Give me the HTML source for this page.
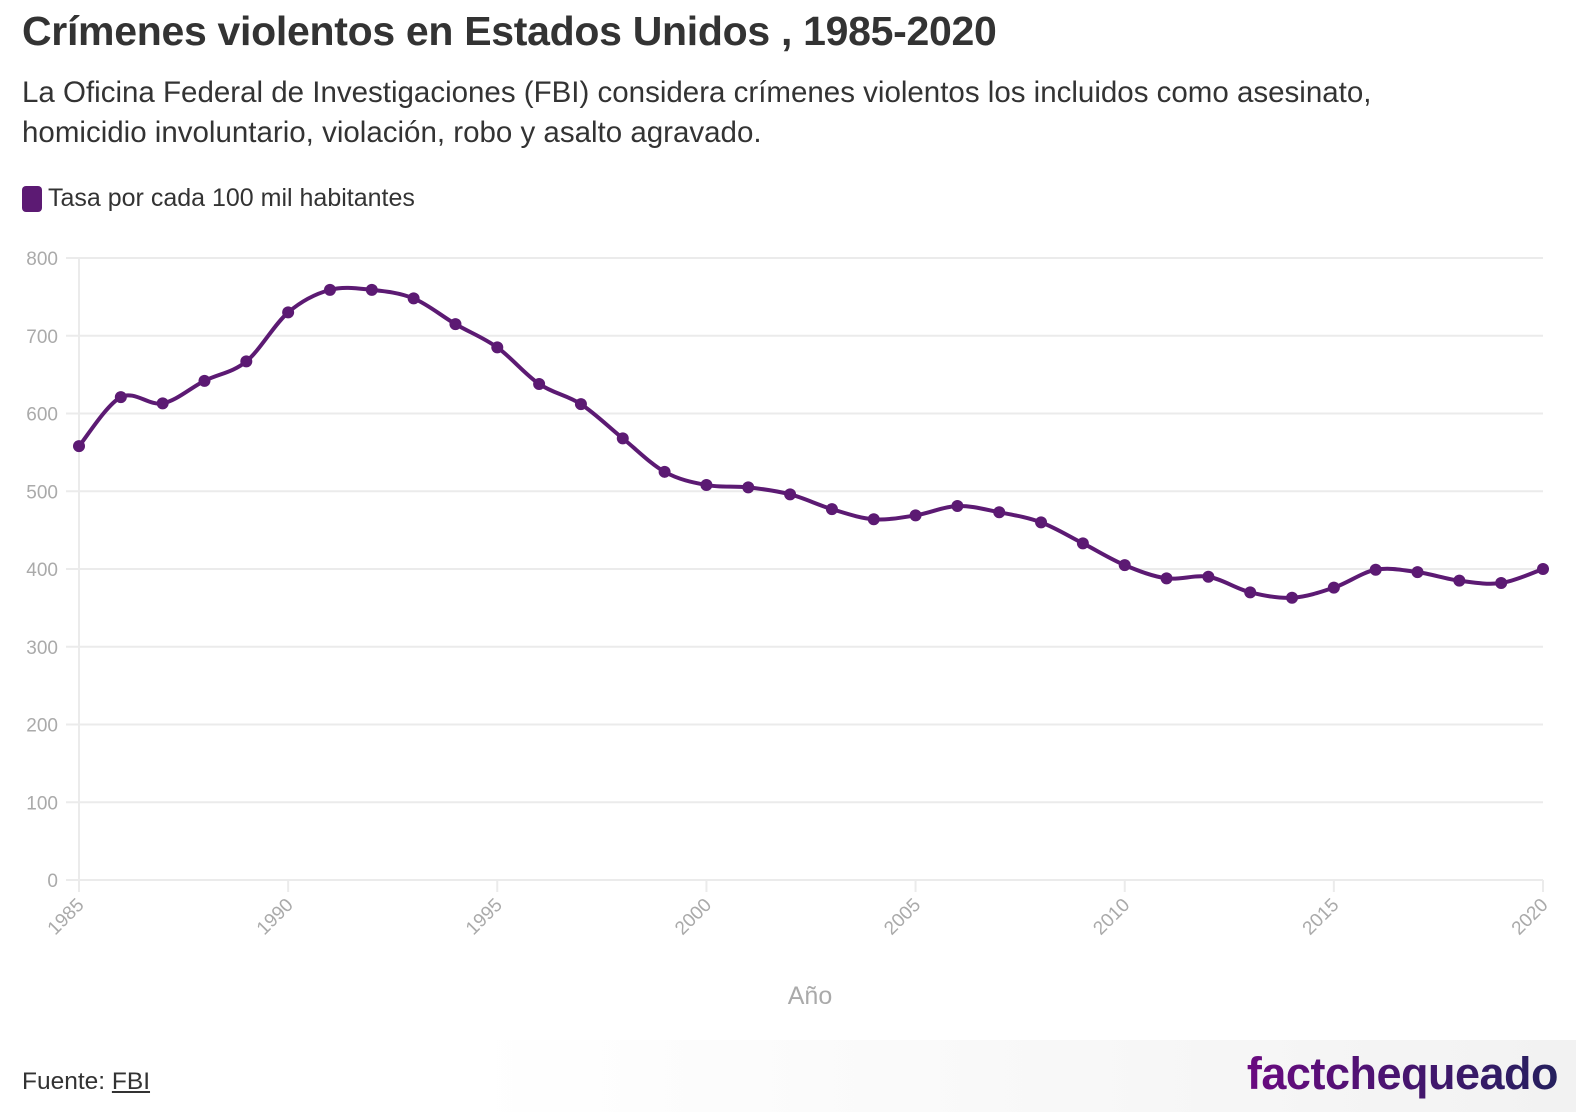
<!DOCTYPE html>
<html><head><meta charset="utf-8"><style>
body{margin:0;width:1576px;height:1112px;background:#fff;font-family:"Liberation Sans",sans-serif;overflow:hidden;position:relative}
h1{position:absolute;left:22px;top:8px;margin:0;font-size:41px;font-weight:bold;color:#333;letter-spacing:-0.3px}
.sub{position:absolute;left:22px;top:73px;font-size:29.5px;color:#333;line-height:40px;width:1450px}
.leg{position:absolute;left:22px;top:184px;font-size:25px;color:#333;display:flex;align-items:center}
.sw{width:20px;height:26px;background:#5c1a73;border-radius:4px;margin-right:6px}
.foot{position:absolute;left:0;top:1040px;width:1576px;height:72px;background:linear-gradient(90deg,#fff 30%,#f2f2f2)}
.src{position:absolute;left:22px;top:1068px;font-size:24.5px;color:#333}
.logo{position:absolute;right:18px;top:1048px;font-size:45px;font-weight:bold;background:linear-gradient(90deg,#6a0a80,#25205e);-webkit-background-clip:text;color:transparent;letter-spacing:-0.5px}
</style></head><body>
<h1>Crímenes violentos en Estados Unidos , 1985-2020</h1>
<div class="sub">La Oficina Federal de Investigaciones (FBI) considera crímenes violentos los incluidos como asesinato, homicidio involuntario, violación, robo y asalto agravado.</div>
<div class="leg"><div class="sw"></div>Tasa por cada 100 mil habitantes</div>
<svg id="c" width="1576" height="1112" style="position:absolute;left:0;top:0"></svg>
<div class="foot"></div>
<div class="src">Fuente: <u>FBI</u></div>
<div class="logo">factchequeado</div>
<script>
const years=[1985,1986,1987,1988,1989,1990,1991,1992,1993,1994,1995,1996,1997,1998,1999,2000,2001,2002,2003,2004,2005,2006,2007,2008,2009,2010,2011,2012,2013,2014,2015,2016,2017,2018,2019,2020];
const rates=[558,621,613,642,667,730,759,759,748,715,685,638,612,568,525,508,505,496,477,464,469,481,473,460,433,405,388,390,370,363,376,399,396,385,382,400];
const yTicks=[0,100,200,300,400,500,600,700,800];
const xTicks=[1985,1990,1995,2000,2005,2010,2015,2020];
const NS="http://www.w3.org/2000/svg",svg=document.getElementById('c');
const X=v=>79+(v-1985)*(1543-79)/35, Y=v=>880-v*(880-258)/800;
function mk(t,a){const e=document.createElementNS(NS,t);for(const k in a)e.setAttribute(k,a[k]);svg.appendChild(e);return e;}
yTicks.forEach(t=>{
 const l=mk('line',{x1:66,x2:1543,y1:Y(t),y2:Y(t),stroke:'#ebebeb','stroke-width':2});
 
 
 const tx=mk('text',{x:58,y:Y(t)+7,'text-anchor':'end','font-size':19,fill:'#aaa','font-family':'Liberation Sans'});
 tx.textContent=t;
 
 
});
const ax=mk('line',{x1:79,x2:79,y1:258,y2:892,stroke:'#ebebeb','stroke-width':2});


xTicks.forEach(t=>{
 const l=mk('line',{x1:X(t),x2:X(t),y1:880,y2:892,stroke:'#ebebeb','stroke-width':2});
 
 
 const tx=mk('text',{x:X(t)+6,y:906,'text-anchor':'end','font-size':19,fill:'#aaa','font-family':'Liberation Sans',transform:`rotate(-45 ${X(t)+6} 906)`});
 tx.textContent=t;
 
 
});
const xt=mk('text',{x:810,y:1004,'text-anchor':'middle','font-size':25,fill:'#aaa','font-family':'Liberation Sans'});
xt.textContent='Año';


const P=years.map((y,i)=>[X(y),Y(rates[i])]);
let d=`M${P[0][0]},${P[0][1]}`;
for(let i=0;i<P.length-1;i++){const p0=P[Math.max(0,i-1)],p1=P[i],p2=P[i+1],p3=P[Math.min(P.length-1,i+2)];
 d+=` C${p1[0]+(p2[0]-p0[0])/6},${p1[1]+(p2[1]-p0[1])/6} ${p2[0]-(p3[0]-p1[0])/6},${p2[1]-(p3[1]-p1[1])/6} ${p2[0]},${p2[1]}`;}
const ln=mk('path',{d:d,fill:'none',stroke:'#5c1a73','stroke-width':4});


P.forEach(p=>{const c=mk('circle',{cx:p[0],cy:p[1],r:6,fill:'#5c1a73'});
 
 });
</script>
</body></html>
